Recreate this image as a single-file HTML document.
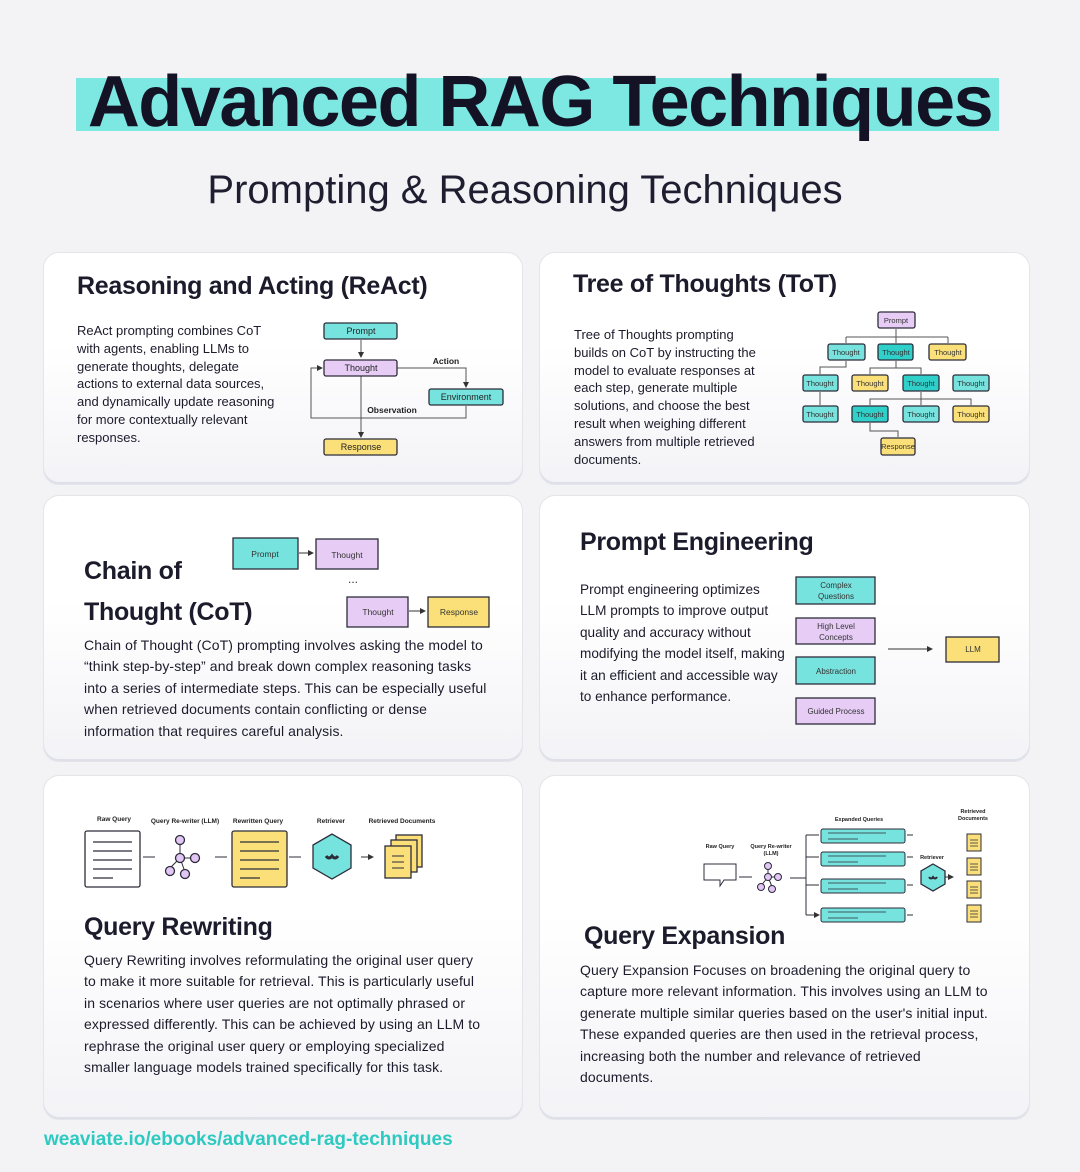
<!DOCTYPE html>
<html><head><meta charset="utf-8"><style>
body{margin:0;width:1080px;height:1172px;background:#f3f3f6;font-family:"Liberation Sans",sans-serif;color:#1c1b2b;position:relative;overflow:hidden}
.card{position:absolute;border-radius:16px;background:linear-gradient(#fff 0%,#fff 40%,#f3f3f7 100%);border:1px solid #e4e4ea;box-shadow:0 -2px 0 #dde0e8 inset}
.t{position:absolute;white-space:nowrap}
.h{font-size:25px;font-weight:bold;letter-spacing:-0.3px}
.p{font-size:13px;line-height:17.8px}
.p2{font-size:13.6px;line-height:21.4px}
.p3{font-size:14px;line-height:21.4px;letter-spacing:0.1px}
svg{position:absolute;left:0;top:0}
</style></head><body>
<div style="position:absolute;left:76px;top:78px;width:923px;height:53px;background:#7de8e1"></div>
<div class="t" style="left:0;width:1080px;text-align:center;top:61px;font-size:72px;font-weight:bold;letter-spacing:-1.5px;color:#141326">Advanced RAG Techniques</div>
<div class="t" style="left:0;width:1050px;text-align:center;top:168px;font-size:40px;color:#1f1e30">Prompting &amp; Reasoning Techniques</div>

<div class="card" style="left:43px;top:252px;width:478px;height:231px"></div>
<div class="card" style="left:539px;top:252px;width:489px;height:231px"></div>
<div class="card" style="left:43px;top:495px;width:478px;height:265px"></div>
<div class="card" style="left:539px;top:495px;width:489px;height:265px"></div>
<div class="card" style="left:43px;top:775px;width:478px;height:343px"></div>
<div class="card" style="left:539px;top:775px;width:489px;height:343px"></div>

<div class="t h" style="left:77px;top:272px">Reasoning and Acting (ReAct)</div>
<div class="t p" style="left:77px;top:322px">ReAct prompting combines CoT<br>with agents, enabling LLMs to<br>generate thoughts, delegate<br>actions to external data sources,<br>and dynamically update reasoning<br>for more contextually relevant<br>responses.</div>

<div class="t h" style="left:573px;top:270px">Tree of Thoughts (ToT)</div>
<div class="t p" style="left:574px;top:326px">Tree of Thoughts prompting<br>builds on CoT by instructing the<br>model to evaluate responses at<br>each step, generate multiple<br>solutions, and choose the best<br>result when weighing different<br>answers from multiple retrieved<br>documents.</div>

<div class="t h" style="left:84px;top:551px;line-height:41px">Chain of<br>Thought (CoT)</div>
<div class="t p3" style="left:84px;top:635px">Chain of Thought (CoT) prompting involves asking the model to<br>“think step-by-step” and break down complex reasoning tasks<br>into a series of intermediate steps. This can be especially useful<br>when retrieved documents contain conflicting or dense<br>information that requires careful analysis.</div>

<div class="t h" style="left:580px;top:528px">Prompt Engineering</div>
<div class="t p2" style="left:580px;top:579px">Prompt engineering optimizes<br>LLM prompts to improve output<br>quality and accuracy without<br>modifying the model itself, making<br>it an efficient and accessible way<br>to enhance performance.</div>

<div class="t h" style="left:84px;top:913px">Query Rewriting</div>
<div class="t p3" style="left:84px;top:950px">Query Rewriting involves reformulating the original user query<br>to make it more suitable for retrieval. This is particularly useful<br>in scenarios where user queries are not optimally phrased or<br>expressed differently. This can be achieved by using an LLM to<br>rephrase the original user query or employing specialized<br>smaller language models trained specifically for this task.</div>

<div class="t h" style="left:584px;top:922px">Query Expansion</div>
<div class="t p3" style="left:580px;top:960px">Query Expansion Focuses on broadening the original query to<br>capture more relevant information. This involves using an LLM to<br>generate multiple similar queries based on the user's initial input.<br>These expanded queries are then used in the retrieval process,<br>increasing both the number and relevance of retrieved<br>documents.</div>

<div class="t" style="left:44px;top:1129px;font-size:19px;font-weight:bold;color:#2ec9c0">weaviate.io/ebooks/advanced-rag-techniques</div>

<svg width="1080" height="1172" viewBox="0 0 1080 1172" font-family="Liberation Sans, sans-serif">
<defs><marker id="a" markerWidth="6" markerHeight="6" refX="5" refY="3" orient="auto"><path d="M0,0L6,3L0,6z" fill="#333"/></marker></defs>
<g stroke="#2c2c3a" stroke-width="1.3" font-size="9" text-anchor="middle">
<g fill="none" stroke="#555" stroke-width="1"><path d="M361,340V357" marker-end="url(#a)"/><path d="M397,368H466V387" marker-end="url(#a)"/><path d="M466,406V418H311V368H322" marker-end="url(#a)"/><path d="M361,376V437" marker-end="url(#a)"/></g>
<rect x="324" y="323" width="73" height="16" rx="2" fill="#77e3de"/>
<rect x="324" y="360" width="73" height="16" rx="2" fill="#e7cdf6"/>
<rect x="429" y="389" width="74" height="16" rx="2" fill="#77e3de"/>
<rect x="324" y="439" width="73" height="16" rx="2" fill="#fbe07a"/>
<g stroke="none" fill="#222"><text x="361" y="334">Prompt</text><text x="361" y="371">Thought</text><text x="466" y="400">Environment</text><text x="361" y="450">Response</text><text x="446" y="364" font-weight="bold" font-size="8.5">Action</text><text x="392" y="413" font-weight="bold" font-size="8.5">Observation</text></g>
<g fill="none" stroke="#555" stroke-width="1"><path d="M896,329V337M846,337H948M846,337V343M948,337V343M896,337V343"/><path d="M846,361V367H820V374"/><path d="M896,361V368H870V374M896,368H921V374"/><path d="M820,392V405"/><path d="M921,392V399H870V405M921,399H971V405M921,399V405"/><path d="M870,423V431H898V437"/></g>
<g font-size="7.5">
<rect x="878" y="312" width="37" height="16" rx="2" fill="#e7cdf6"/>
<rect x="828" y="344" width="37" height="16" rx="2" fill="#77e3de"/>
<rect x="878" y="344" width="35" height="16" rx="2" fill="#2fcfca"/>
<rect x="929" y="344" width="37" height="16" rx="2" fill="#fbe07a"/>
<rect x="803" y="375" width="35" height="16" rx="2" fill="#77e3de"/>
<rect x="852" y="375" width="36" height="16" rx="2" fill="#fbe07a"/>
<rect x="903" y="375" width="36" height="16" rx="2" fill="#2fcfca"/>
<rect x="953" y="375" width="36" height="16" rx="2" fill="#77e3de"/>
<rect x="803" y="406" width="35" height="16" rx="2" fill="#77e3de"/>
<rect x="852" y="406" width="36" height="16" rx="2" fill="#2fcfca"/>
<rect x="903" y="406" width="36" height="16" rx="2" fill="#77e3de"/>
<rect x="953" y="406" width="36" height="16" rx="2" fill="#fbe07a"/>
<rect x="881" y="438" width="34" height="17" rx="2" fill="#fbe07a"/>
<g stroke="none" fill="#333"><text x="896" y="323">Prompt</text><text x="846" y="355">Thought</text><text x="896" y="355">Thought</text><text x="948" y="355">Thought</text><text x="820" y="386">Thought</text><text x="870" y="386">Thought</text><text x="921" y="386">Thought</text><text x="971" y="386">Thought</text><text x="820" y="417">Thought</text><text x="870" y="417">Thought</text><text x="921" y="417">Thought</text><text x="971" y="417">Thought</text><text x="898" y="449">Response</text></g>
</g>
<g fill="none" stroke="#333" stroke-width="1"><path d="M299,553H313" marker-end="url(#a)"/><path d="M409,611H425" marker-end="url(#a)"/></g>
<rect x="233" y="538" width="65" height="31" fill="#77e3de"/>
<rect x="316" y="539" width="62" height="30" fill="#e7cdf6"/>
<rect x="347" y="597" width="61" height="30" fill="#e7cdf6"/>
<rect x="428" y="597" width="61" height="30" fill="#fbe07a"/>
<g stroke="none" fill="#333" font-size="8.5"><text x="265" y="557">Prompt</text><text x="347" y="558">Thought</text><text x="378" y="615">Thought</text><text x="459" y="615">Response</text><text x="353" y="583" font-size="12">...</text></g>
<g fill="none" stroke="#333" stroke-width="1"><path d="M888,649H932" marker-end="url(#a)"/></g>
<g font-size="8">
<rect x="796" y="577" width="79" height="27" fill="#77e3de"/>
<rect x="796" y="618" width="79" height="26" fill="#e7cdf6"/>
<rect x="796" y="657" width="79" height="27" fill="#77e3de"/>
<rect x="796" y="698" width="79" height="26" fill="#e7cdf6"/>
<rect x="946" y="637" width="53" height="25" fill="#fbe07a"/>
<g stroke="none" fill="#333"><text x="836" y="588">Complex</text><text x="836" y="599">Questions</text><text x="836" y="629">High Level</text><text x="836" y="640">Concepts</text><text x="836" y="674">Abstraction</text><text x="836" y="714">Guided Process</text><text x="973" y="652">LLM</text></g>
</g>
<g stroke="none" fill="#222" font-size="6.5" font-weight="bold"><text x="114" y="821">Raw Query</text><text x="185" y="823">Query Re-writer (LLM)</text><text x="258" y="823">Rewritten Query</text><text x="331" y="823">Retriever</text><text x="402" y="823">Retrieved Documents</text></g>
<rect x="85" y="831" width="55" height="56" rx="2" fill="#fff"/>
<path d="M93,842H132M93,851H132M93,860H132M93,869H132M93,878H113" stroke-width="1.2"/>
<path d="M143,857H155M215,857H227M289,857H301M361,857H373" marker-end="url(#a)" stroke-width="1"/>
<path d="M180,841V858L168,870M180,858L196,858M180,858L185,872" fill="none" stroke-width="1"/>
<g fill="#e2c6f4"><circle cx="180" cy="840" r="4.5"/><circle cx="180" cy="858" r="4.5"/><circle cx="195" cy="858" r="4.5"/><circle cx="170" cy="871" r="4.5"/><circle cx="185" cy="874" r="4.5"/></g>
<rect x="232" y="831" width="55" height="56" rx="2" fill="#fbe07a"/>
<path d="M240,842H279M240,851H279M240,860H279M240,869H279M240,878H260" stroke-width="1.2"/>
<path d="M332,834L351,845V868L332,879L313,868V845Z" fill="#77e3de"/>
<path d="M326,856q3,4 6,0q3,4 6,0" stroke-width="3" fill="none"/>
<rect x="396" y="835" width="26" height="32" fill="#fbe07a"/><rect x="391" y="840" width="26" height="32" fill="#fbe07a"/><rect x="385" y="846" width="26" height="32" fill="#fbe07a"/>
<path d="M392,856H404M392,862H404M392,868H404" stroke-width="1"/>
<g stroke="none" fill="#222" font-size="5.5" font-weight="bold"><text x="720" y="848">Raw Query</text><text x="771" y="848">Query Re-writer</text><text x="771" y="855">(LLM)</text><text x="859" y="821">Expanded Queries</text><text x="973" y="813">Retrieved</text><text x="973" y="820">Documents</text><text x="932" y="859">Retriever</text></g>
<path d="M704,864H736V880H724L720,886V880H704Z" fill="#fff" stroke-width="1"/>
<path d="M739,877H752M907,835H913M907,857H913M907,885H913M907,915H913M945,877H953" marker-end="url(#a)" stroke-width="1"/>
<path d="M768,867V877L760,887M768,877H778M768,877L773,889" fill="none" stroke-width="1"/>
<g fill="#e2c6f4" stroke-width="1"><circle cx="768" cy="866" r="3.5"/><circle cx="768" cy="877" r="3.5"/><circle cx="778" cy="877" r="3.5"/><circle cx="761" cy="887" r="3.5"/><circle cx="772" cy="889" r="3.5"/></g>
<path d="M790,878H806M806,835V915M806,835H819M806,857H819M806,885H819M806,915H819" fill="none" stroke-width="1" marker-end="url(#a)"/>
<g fill="#77e3de" stroke-width="1"><rect x="821" y="829" width="84" height="14" rx="2"/><rect x="821" y="852" width="84" height="14" rx="2"/><rect x="821" y="879" width="84" height="14" rx="2"/><rect x="821" y="908" width="84" height="14" rx="2"/></g>
<path d="M828,833H886M828,839H858M828,856H886M828,862H858M828,883H886M828,889H858M828,912H886M828,918H858" stroke-width="0.8"/>
<path d="M933,864L945,871V884L933,891L921,884V871Z" fill="#77e3de"/>
<path d="M929,877q2,3 4,0q2,3 4,0" stroke-width="2" fill="none"/>
<g fill="#fbe07a" stroke-width="1"><rect x="967" y="834" width="14" height="17"/><rect x="967" y="858" width="14" height="17"/><rect x="967" y="881" width="14" height="17"/><rect x="967" y="905" width="14" height="17"/></g>
<path d="M970,840H978M970,843H978M970,846H978M970,864H978M970,867H978M970,870H978M970,887H978M970,890H978M970,893H978M970,911H978M970,914H978M970,917H978" stroke-width="0.8"/>
</g>
</svg>
</body></html>
